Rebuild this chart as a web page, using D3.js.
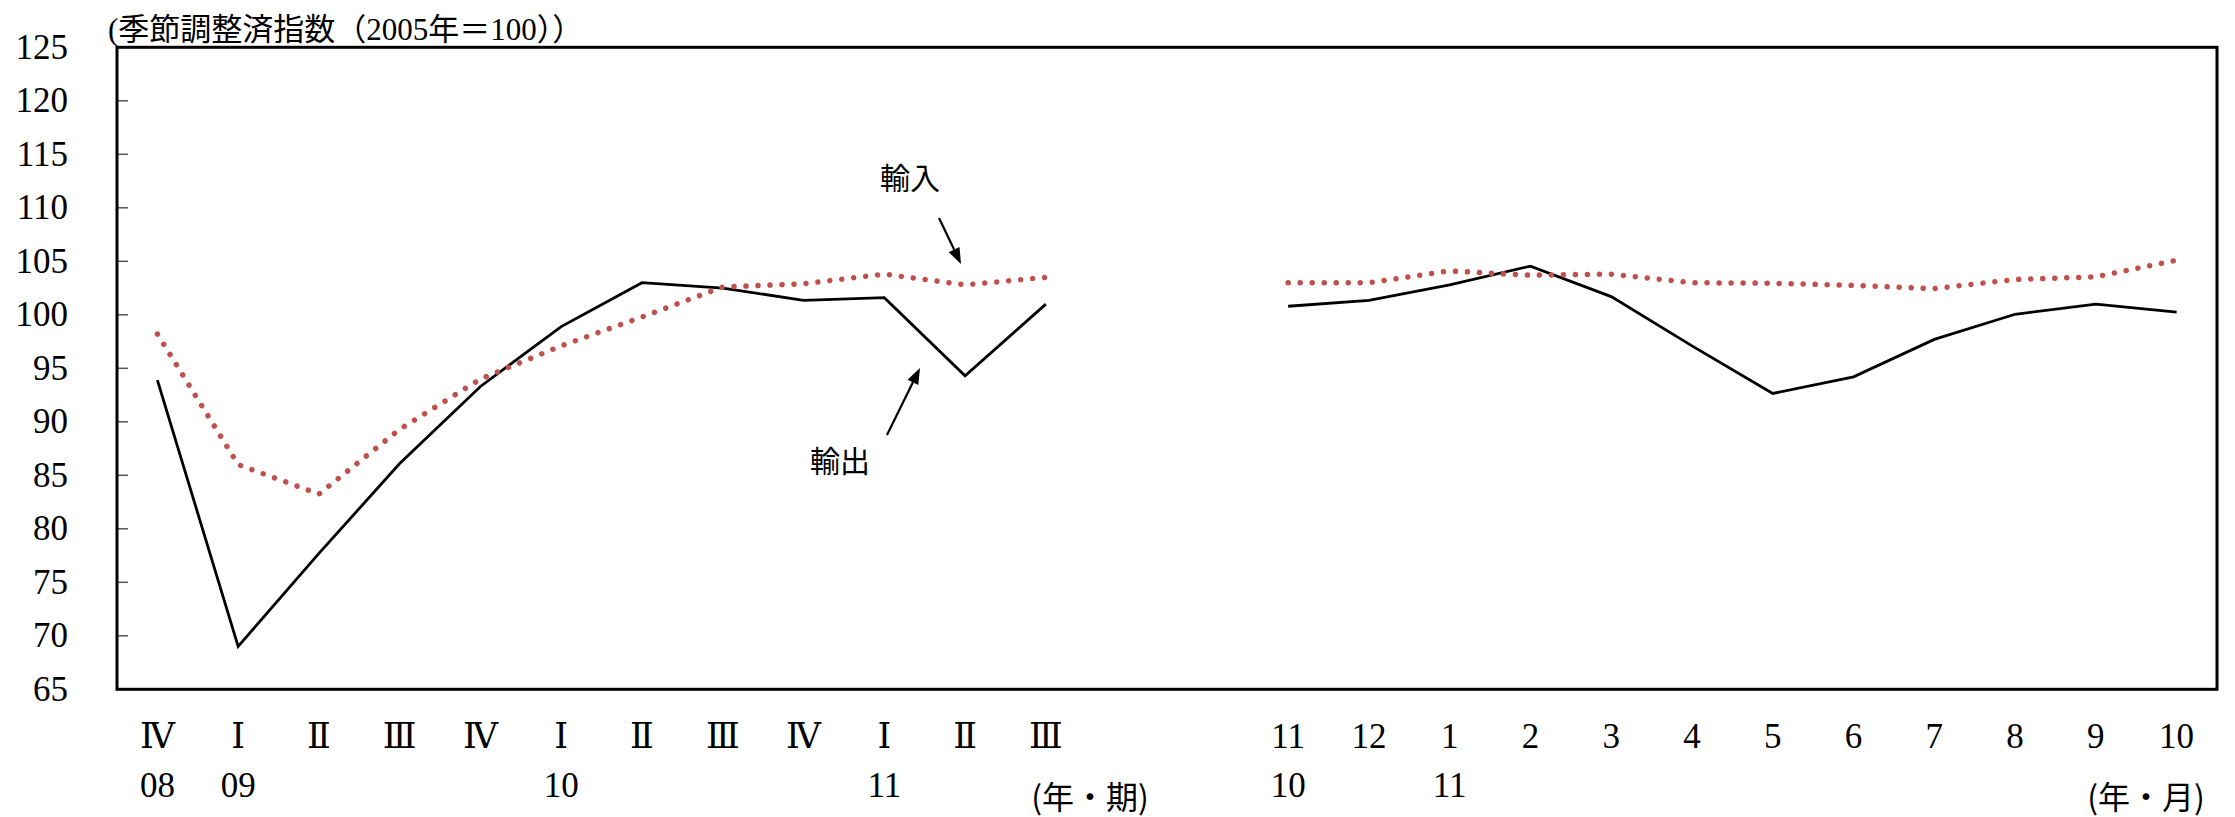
<!DOCTYPE html>
<html>
<head>
<meta charset="utf-8">
<script src="https://cdn.jsdelivr.net/npm/d3@7"></script>
<style>
  html, body { margin: 0; padding: 0; background: #fff; }
  svg { display: block; }
</style>
</head>
<body>
<svg id="chart" width="2235" height="817"></svg>
<script>
// ---- data ----
const quarterLabels = ["Ⅳ","Ⅰ","Ⅱ","Ⅲ","Ⅳ","Ⅰ","Ⅱ","Ⅲ","Ⅳ","Ⅰ","Ⅱ","Ⅲ"];
const quarterYears  = ["08","09","","","","10","","","","11","",""];
const monthLabels   = ["11","12","1","2","3","4","5","6","7","8","9","10"];
const monthYears    = ["10","","11","","","","","","","","",""];

const exportQ = [93.9, 69.0, 77.7, 86.1, 93.3, 98.9, 103.0, 102.5, 101.35, 101.6, 94.3, 101.0];
const importQ = [98.2, 86.0, 83.25, 89.3, 94.0, 97.1, 99.8, 102.6, 102.9, 103.8, 102.8, 103.5];
const exportM = [100.8, 101.35, 102.8, 104.55, 101.7, 97.1, 92.65, 94.2, 97.7, 100.05, 101.0, 100.25];
const importM = [103.0, 103.0, 104.1, 103.7, 103.8, 103.0, 102.95, 102.75, 102.45, 103.3, 103.55, 105.1];

const yTicks = [65,70,75,80,85,90,95,100,105,110,115,120,125];

const titleText = "(季節調整済指数（2005年＝100））";
const unitQ = "(年・期)";
const unitM = "(年・月)";
const labelImport = "輸入";
const labelExport = "輸出";

(function () {
// ---- layout ----
const pLeft = 117, pRight = 2217, pTop = 47.3, pBottom = 689.3;
const serif = "'Liberation Serif','DejaVu Serif','Noto Sans CJK JP',serif";
const cjk = "'Noto Sans CJK JP','Liberation Serif',sans-serif";

const qKeys = quarterLabels.map((d,i) => "q" + i);
const mKeys = monthLabels.map((d,i) => "m" + i);
const keys = [...qKeys, "g0", "g1", ...mKeys];

const x = d3.scalePoint().domain(keys).range([pLeft, pRight]).padding(0.5);
const y = d3.scaleLinear().domain([65,125]).range([pBottom, pTop]);

const svg = d3.select("#chart");

// left ticks (inside)
svg.append("g").selectAll("line")
  .data(yTicks.filter(v => v > 65 && v < 125))
  .join("line")
  .attr("x1", pLeft).attr("x2", pLeft + 11)
  .attr("y1", d => y(d)).attr("y2", d => y(d))
  .attr("stroke", "#555").attr("stroke-width", 1.5);

// y labels
svg.append("g").selectAll("text")
  .data(yTicks)
  .join("text")
  .attr("x", 68).attr("y", d => y(d))
  .attr("text-anchor", "end")
  .attr("dominant-baseline", "central")
  .attr("font-family", serif).attr("font-size", 35)
  .text(d => d);

// lines
const lineQ = d3.line().x((d,i) => x(qKeys[i])).y(d => y(d));
const lineM = d3.line().x((d,i) => x(mKeys[i])).y(d => y(d));

const dotStyle = p => p.attr("fill", "none").attr("stroke", "#c0504d")
  .attr("stroke-width", 5.5).attr("stroke-linecap", "round")
  .attr("stroke-dasharray", "0.01 12");
const solidStyle = p => p.attr("fill", "none").attr("stroke", "#000")
  .attr("stroke-width", 2.8).attr("stroke-linejoin", "miter");

svg.append("path").datum(exportQ).attr("d", lineQ).call(solidStyle);
svg.append("path").datum(exportM).attr("d", lineM).call(solidStyle);
svg.append("path").datum(importQ).attr("d", lineQ).call(dotStyle);
svg.append("path").datum(importM).attr("d", lineM).call(dotStyle);

// frame
svg.append("rect")
  .attr("x", pLeft).attr("y", pTop)
  .attr("width", pRight - pLeft).attr("height", pBottom - pTop)
  .attr("fill", "none").attr("stroke", "#000").attr("stroke-width", 3);

// x labels
const xg = svg.append("g").attr("font-family", serif).attr("font-size", 35).attr("text-anchor", "middle");
xg.selectAll("text.q").data(quarterLabels).join("text").attr("class","q")
  .attr("x", (d,i) => x(qKeys[i])).attr("y", 748).text(d => d);
xg.selectAll("text.qy").data(quarterYears).join("text").attr("class","qy")
  .attr("x", (d,i) => x(qKeys[i])).attr("y", 797).text(d => d);
xg.selectAll("text.m").data(monthLabels).join("text").attr("class","m")
  .attr("x", (d,i) => x(mKeys[i])).attr("y", 748).text(d => d);
xg.selectAll("text.my").data(monthYears).join("text").attr("class","my")
  .attr("x", (d,i) => x(mKeys[i])).attr("y", 797).text(d => d);

// unit labels
svg.append("text").attr("x", 1090).attr("y", 809).attr("text-anchor","middle")
  .attr("font-family", cjk).attr("font-size", 32).text(unitQ);
svg.append("text").attr("x", 2146).attr("y", 809).attr("text-anchor","middle")
  .attr("font-family", cjk).attr("font-size", 32).text(unitM);

// title
svg.append("text").attr("x", 108).attr("y", 40)
  .attr("font-family", serif).attr("font-size", 31).text(titleText);

// annotations
svg.append("text").attr("x", 910).attr("y", 189).attr("text-anchor","middle")
  .attr("font-family", cjk).attr("font-size", 30).text(labelImport);
svg.append("text").attr("x", 840).attr("y", 472).attr("text-anchor","middle")
  .attr("font-family", cjk).attr("font-size", 30).text(labelExport);

function arrow(x1, y1, x2, y2) {
  const ang = Math.atan2(y2 - y1, x2 - x1);
  const L = 16, W = 6;
  const bx = x2 - L * Math.cos(ang), by = y2 - L * Math.sin(ang);
  svg.append("line").attr("x1", x1).attr("y1", y1).attr("x2", bx).attr("y2", by)
    .attr("stroke", "#000").attr("stroke-width", 2.2);
  const px = -Math.sin(ang) * W, py = Math.cos(ang) * W;
  svg.append("polygon")
    .attr("points", `${x2},${y2} ${bx+px},${by+py} ${bx-px},${by-py}`)
    .attr("fill", "#000");
}
arrow(939, 218, 961, 264);
arrow(887, 435, 920, 368);
})();
</script>
</body>
</html>
